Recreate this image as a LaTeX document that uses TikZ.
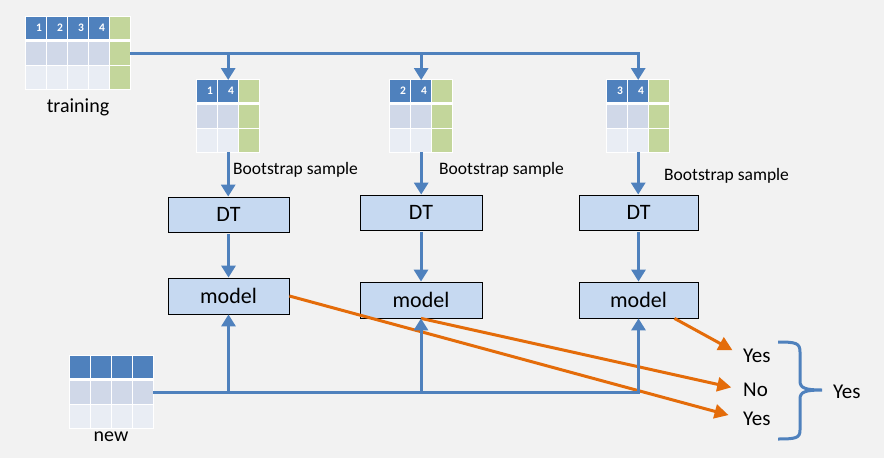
\documentclass[tikz,border=0pt]{standalone}
\usepackage{fontspec}
\setmainfont{Carlito}
\usetikzlibrary{arrows.meta,calc}
\definecolor{bg}{HTML}{F2F2F2}
\definecolor{hdr}{HTML}{4F81BD}
\definecolor{rowa}{HTML}{D0D8E8}
\definecolor{rowb}{HTML}{E9EDF4}
\definecolor{grn}{HTML}{C3D69B}
\definecolor{boxfill}{HTML}{C6D9F1}
\definecolor{orng}{HTML}{E46C0A}
\definecolor{lblue}{HTML}{4F81BD}
% #1 name, #2 left, #3 top, #4 header labels, #5 total columns, #6 green column (1/0)
\newcommand\datatable[6]{%
  \begin{scope}[shift={(#2,#3)}]
    \pgfmathsetmacro\tw{#5*21-1}
    \fill[white] (-1,-1) rectangle (\tw+1,73);
    \foreach \lab [count=\i from 0] in {#4}{
      \fill[hdr] ({\i*21},0) rectangle ++(20,22);
      \node[numlbl] at ({\i*21+13},11) {\lab};
      \fill[rowa] ({\i*21},25) rectangle ++(20,23);
      \fill[rowb] ({\i*21},49) rectangle ++(20,23);
    }
    \ifnum#6=1
      \pgfmathsetmacro\gx{(#5-1)*21}
      \fill[grn] (\gx,0) rectangle ++(20,22);
      \fill[grn] (\gx,25) rectangle ++(20,23);
      \fill[grn] (\gx,49) rectangle ++(20,23);
    \fi
    \node[inner sep=0pt, minimum width=\tw pt, minimum height=72pt, anchor=north west] (#1) at (0,0) {};
  \end{scope}
}
\begin{document}
\begin{tikzpicture}[x=1pt,y=-1pt,
  numlbl/.style={text=white, font=\fontsize{11.5}{12}\selectfont\bfseries, inner sep=0pt},
  box/.style={draw=black, line width=0.8pt, fill=boxfill, inner sep=0pt, font=\fontsize{22}{26}\selectfont},
  bs/.style={font=\fontsize{17.5}{20}\selectfont, inner sep=0pt, anchor=west},
  lbl/.style={font=\fontsize{20}{24}\selectfont, inner sep=0pt},
  yn/.style={font=\fontsize{21}{24}\selectfont, inner sep=0pt, anchor=west},
  bline/.style={draw=lblue, line width=3pt},
  barrow/.style={draw=lblue, line width=3pt, -{Triangle[width=14pt,length=12pt]}},
  oarrow/.style={draw=orng, line width=3pt, -{Triangle[width=14pt,length=14pt]}},
  brace/.style={draw=lblue, line width=3pt}
]
\useasboundingbox[fill=bg] (0,0) rectangle (884,458);

% tables
\datatable{tr}{26}{17}{1,2,3,4}{5}{1}
\datatable{s1}{197}{80}{1,4}{3}{1}
\datatable{s2}{390}{80}{2,4}{3}{1}
\datatable{s3}{607}{80}{3,4}{3}{1}
\datatable{nw}{70}{356}{{},{},{},{}}{4}{0}

\node[lbl] (trl) at (78,107) {training};
\node[lbl] (nwl) at (111,437) {new};

% boxes
\node[box, minimum width=121pt, minimum height=35pt] (dt1) at (228.5,214.5) {DT};
\node[box, minimum width=121pt, minimum height=36pt] (m1) at (228.5,296) {model};
\node[box, minimum width=122pt, minimum height=35pt] (dt2) at (421,212.5) {DT};
\node[box, minimum width=122pt, minimum height=36pt] (m2) at (421,300) {model};
\node[box, minimum width=119pt, minimum height=35pt] (dt3) at (638.5,212.5) {DT};
\node[box, minimum width=119pt, minimum height=36pt] (m3) at (638.5,300) {model};

% bootstrap labels
\node[bs] (b1) at (233,170) {Bootstrap sample};
\node[bs] (b2) at (439,170) {Bootstrap sample};
\node[bs] (b3) at (664,176) {Bootstrap sample};

% votes
\node[yn] (y1) at (743,356) {Yes};
\node[yn] (n1) at (743,390) {No};
\node[yn] (y2) at (743,419) {Yes};
\node[yn] (res) at (833,392) {Yes};

% orange arrows
\draw[oarrow, shorten >=15pt] (m1.east) -- (y2.west);
\draw[oarrow, shorten >=12pt] (m2.south) -- (n1.west);
\draw[oarrow, shorten >=12pt] ($(m3.south)!0.6!(m3.south east)$) -- (y1.west);

% training distribution
\draw[barrow] (tr.east) -- (tr.east -| s3.north) -- (s3.north);
\draw[barrow] (tr.east -| s1.north) -- (s1.north);
\draw[barrow] (tr.east -| s2.north) -- (s2.north);

% sample -> DT -> model
\draw[barrow] (s1.south) -- (s1.south |- dt1.north);
\draw[barrow] (s2.south) -- (s2.south |- dt2.north);
\draw[barrow] (s3.south) -- (s3.south |- dt3.north);
\draw[barrow, shorten <=2pt] (dt1.south) -- (m1.north);
\draw[barrow, shorten <=2pt] (dt2.south) -- (m2.north);
\draw[barrow, shorten <=2pt] (dt3.south) -- (m3.north);

% new data to models
\draw[barrow] (nw.east) -- (nw.east -| m3.south) -- (m3.south);
\draw[barrow] (nw.east -| m1.south) -- (m1.south);
\draw[barrow] (nw.east -| m2.south) -- (m2.south);

% brace
\draw[brace] (778,342) .. controls (796,342) and (800,343) .. (800,352) -- (800,381)
  .. controls (800,388) and (805,390) .. (822,390)
  .. controls (805,390) and (800,392) .. (800,399) -- (800,430)
  .. controls (800,438) and (796,439) .. (778,439);
\end{tikzpicture}
\end{document}
